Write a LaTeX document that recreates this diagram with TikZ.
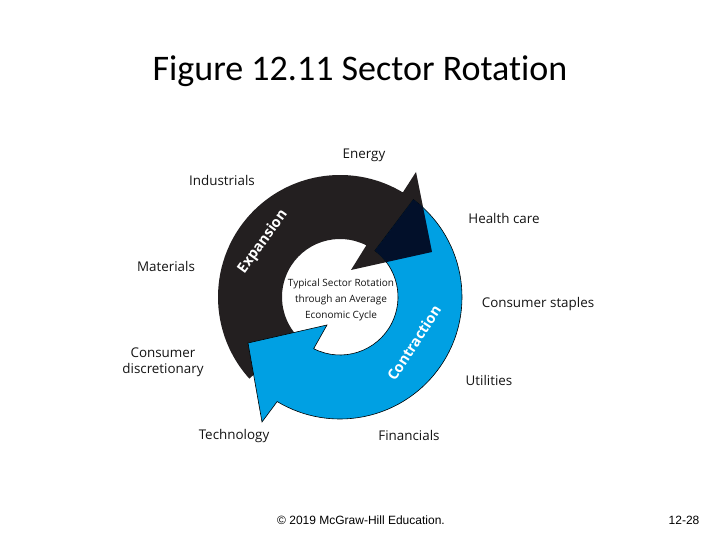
\documentclass[tikz,border=0pt]{standalone}
\usepackage{fontspec}
\newfontfamily\labfont{Open Sans}
\newfontfamily\titlefont[Ligatures={NoCommon}]{Carlito}
\newfontfamily\footfont{Liberation Sans}
\definecolor{ringblack}{RGB}{35,31,32}
\definecolor{ringblue}{RGB}{0,160,227}
\definecolor{ringnavy}{RGB}{2,16,42}
\begin{document}
\begin{tikzpicture}[x=1pt,y=1pt,
  lab/.style={font=\labfont\fontsize{13.4}{15}\selectfont, anchor=base, inner sep=0pt, text=black!92},
  ctr/.style={font=\labfont\fontsize{10}{12}\selectfont, anchor=base, inner sep=0pt, text=black!92},
  phase/.style={font=\labfont\bfseries\fontsize{14.5}{16}\selectfont, inner sep=0pt, text=white},
  foot/.style={font=\footfont\fontsize{12}{14}\selectfont, anchor=base, inner sep=0pt}]
\useasboundingbox (0,0) rectangle (720,540);
\fill[white] (0,0) rectangle (720,540);
\coordinate (C) at (340,243);
% black (expansion) arrow
\fill[ringblack] ([shift={(222:122)}]C) arc[start angle=222,end angle=59,radius=122]
  -- (416,368) -- (432,288) -- (351,270) -- ([shift={(63:58)}]C)
  arc[start angle=63,end angle=222,radius=58] -- cycle;
% blue (contraction) arrow
\filldraw[fill=ringblue, draw=black, line width=0.6pt, line join=miter]
  ([shift={(53:122)}]C) arc[start angle=53,end angle=-121,radius=122]
  -- (262,118) -- (248,197) -- (327,215) -- ([shift={(-117:58)}]C)
  arc[start angle=-117,end angle=53,radius=58] -- cycle;
% overlap of black arrowhead on blue
\begin{scope}
  \clip ([shift={(53:122)}]C) arc[start angle=53,end angle=-121,radius=122]
  -- (262,118) -- (248,197) -- (327,215) -- ([shift={(-117:58)}]C)
  arc[start angle=-117,end angle=53,radius=58] -- cycle;
  \fill[ringnavy] (416,368) -- (432,288) -- (351,270) -- cycle;
\end{scope}
% phase labels
\node[phase, rotate=54] (exp) at (263,298) {Expansion};
\node[phase, rotate=57] (con) at (414,197) {Contraction};
% centre text
\node[ctr] (c1) at (341,253) {Typical Sector Rotation};
\node[ctr] (c2) at (341,237) {through an Average};
\node[ctr] (c3) at (341,221) {Economic Cycle};
% sector labels
\node[lab] (energy) at (364,381) {Energy};
\node[lab] (ind) at (222,354) {Industrials};
\node[lab] (health) at (504,316) {Health care};
\node[lab] (mat) at (166,268) {Materials};
\node[lab] (staples) at (538,232) {Consumer staples};
\node[lab] (disc1) at (163,182) {Consumer};
\node[lab] (disc2) at (163,166) {discretionary};
\node[lab] (util) at (489,154) {Utilities};
\node[lab] (tech) at (234,100) {Technology};
\node[lab] (fin) at (409,99) {Financials};
% title and footer
\node[font=\titlefont\fontsize{36}{42}\selectfont, anchor=base, inner sep=0pt] (title) at (360,459) {Figure 12.11 Sector Rotation};
\node[foot] (copy) at (361,15) {© 2019 McGraw-Hill Education.};
\node[foot] (page) at (684,15) {12-28};
\end{tikzpicture}
\end{document}
